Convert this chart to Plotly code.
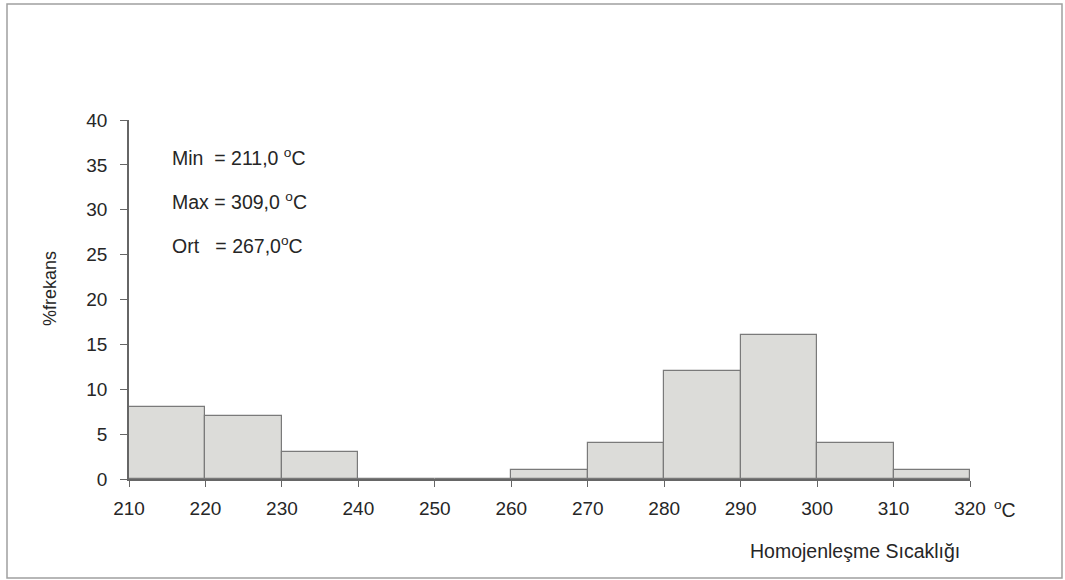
import plotly.graph_objects as go

bin_starts = [210, 220, 230, 240, 250, 260, 270, 280, 290, 300, 310]
frequencies = [8, 7, 3, 0, 0, 1, 4, 12, 16, 4, 1]
bin_width = 10
x_ticks = [210, 220, 230, 240, 250, 260, 270, 280, 290, 300, 310, 320]
y_ticks = [0, 5, 10, 15, 20, 25, 30, 35, 40]
stats_lines = ["Min  = 211,0 <sup>o</sup>C", "Max = 309,0 <sup>o</sup>C", "Ort   = 267,0<sup>o</sup>C"]
stats_y = [35.9, 31.0, 26.1]

centers = [s + bin_width / 2 for s in bin_starts]

font_family = "Liberation Sans, Arial, sans-serif"
axis_col = "#666666"
txt_col = "#262626"

# plot area in pixels
L, R, T, B = 129, 970, 120, 479
W, H = R - L, B - T

fig = go.Figure()
fig.add_trace(go.Bar(
    x=centers, y=frequencies, width=bin_width,
    marker=dict(color="#dcdcd9", line=dict(color="#7a7a7a", width=1.2)),
    hoverinfo="skip",
))

for txt, yy in zip(stats_lines, stats_y):
    fig.add_annotation(x=(170 - L) / W, y=yy, xref="paper", yref="y", text=txt, showarrow=False,
                       xanchor="left", yanchor="middle",
                       font=dict(family=font_family, size=19.5, color=txt_col))

fig.add_annotation(x=(992 - L) / W, y=-(509 - B) / H, xref="paper", yref="paper",
                   text="<sup>o</sup>C", showarrow=False, xanchor="left", yanchor="middle",
                   font=dict(family=font_family, size=19.5, color=txt_col))
fig.add_annotation(x=(962 - L) / W, y=-(551 - B) / H, xref="paper", yref="paper",
                   text="Homojenleşme Sıcaklığı", showarrow=False, xanchor="right", yanchor="middle",
                   font=dict(family=font_family, size=19.5, color=txt_col))
fig.add_annotation(x=-(L - 50) / W, y=(B - 289) / H, xref="paper", yref="paper",
                   text="%frekans", showarrow=False, xanchor="center", yanchor="middle",
                   textangle=-90, font=dict(family=font_family, size=18, color=txt_col))

fig.add_shape(type="rect", xref="paper", yref="paper",
              x0=-(L - 7) / W, x1=(1062 - L) / W, y0=-(578 - B) / H, y1=(B - 4) / H,
              line=dict(color="#a0a0a0", width=1.5), fillcolor="rgba(0,0,0,0)", layer="below")

fig.update_layout(
    width=1065, height=580,
    margin=dict(l=L, r=1065 - R, t=T, b=580 - B),
    paper_bgcolor="white", plot_bgcolor="white",
    showlegend=False, bargap=0,
    font=dict(family=font_family, size=19, color=txt_col),
    xaxis=dict(range=[210, 320], tickvals=x_ticks, ticktext=[str(v) for v in x_ticks],
               showgrid=False, zeroline=False, showline=True, linecolor=axis_col, linewidth=2,
               ticks="outside", ticklen=6, tickcolor=axis_col, tickwidth=1.2,
               tickfont=dict(family=font_family, size=19, color=txt_col), ticklabelstandoff=5),
    yaxis=dict(range=[0, 40], tickvals=y_ticks, showgrid=False, zeroline=False,
               showline=True, linecolor=axis_col, linewidth=1.5, ticks="outside", ticklen=7,
               tickcolor=axis_col, tickwidth=1.2,
               tickfont=dict(family=font_family, size=19, color=txt_col), ticklabelstandoff=9),
)

fig.write_html("out.html")
